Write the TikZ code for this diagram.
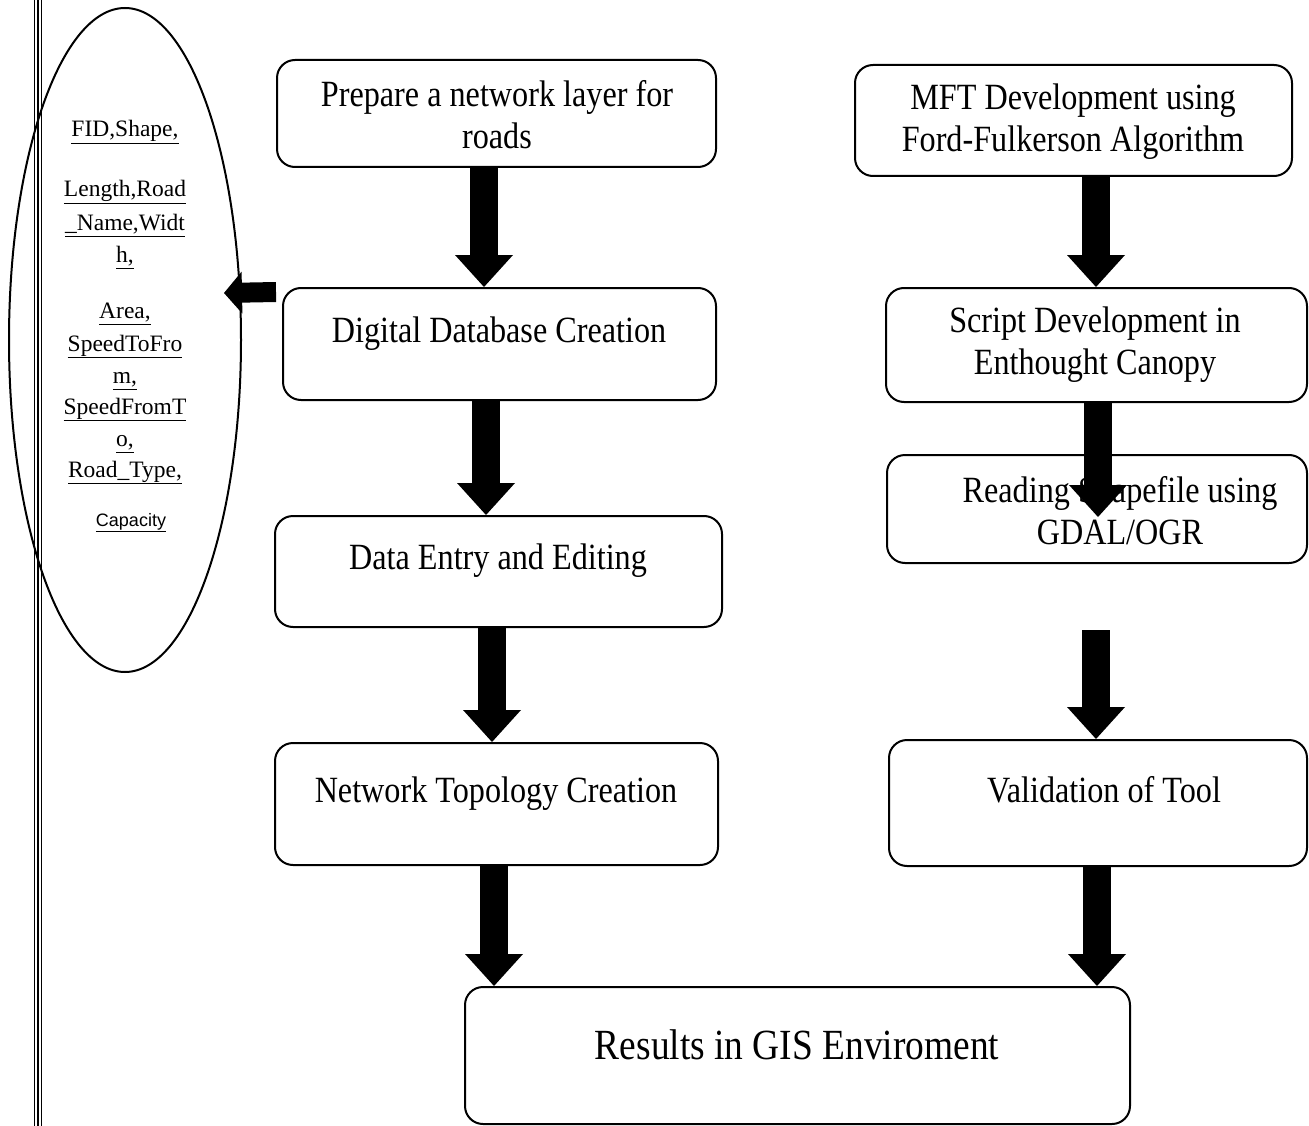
\documentclass[tikz,border=0pt]{standalone}
\usepackage{fontspec}
\setmainfont{Liberation Serif}
\newfontfamily\boxfont{Liberation Serif}[FakeStretch=0.87]
\newfontfamily\capfont{Liberation Sans}
\usetikzlibrary{arrows.meta,shapes.geometric}
\newcommand\ulx[1]{\underline{\vphantom{p}#1}}
\begin{document}
\begin{tikzpicture}[x=1pt,y=-1pt,
  box/.style={draw, line width=2pt, rounded corners=18pt, inner sep=0pt},
  boxtext/.style={align=center, font=\boxfont\fontsize{37}{42}\selectfont, inner sep=0pt},
  elltext/.style={anchor=base, inner sep=0pt, font=\fontsize{23.5}{33}\selectfont},
  downarrow/.style={line width=28pt, -{Triangle[width=58pt,length=32pt,line width=0pt]}},
  leftarrow/.style={line width=20pt, -{Triangle[width=42pt,length=18pt,line width=0pt]}},
]
\useasboundingbox (0,0) rectangle (1309,1126);
% frame lines
\draw[line width=1pt] (34.5,0) -- (34.5,1126);
\draw[line width=2.6pt] (37.8,0) -- (37.8,1126);
\draw[line width=1pt] (41,0) -- (41,1126);
% ellipse
\node[draw, ellipse, line width=2pt, minimum width=232pt, minimum height=664pt, inner sep=0pt] (ell) at (125,340) {};
\node[elltext] (e1) at (125,137) {\ulx{FID,Shape,}};
\node[elltext] (e2) at (125,197) {\ulx{Length,Road}};
\node[elltext] (e3) at (125,230) {\ulx{\_Name,Widt}};
\node[elltext] (e4) at (125,262) {\ulx{h,}};
\node[elltext] (e5) at (125,318) {\ulx{Area,}};
\node[elltext] (e6) at (125,351) {\ulx{SpeedToFro}};
\node[elltext] (e7) at (125,383) {\ulx{m,}};
\node[elltext] (e8) at (125,414) {\ulx{SpeedFromT}};
\node[elltext] (e9) at (125,446) {\ulx{o,}};
\node[elltext] (e10) at (125,477) {\ulx{Road\_Type,}};
\node[elltext, font=\capfont\fontsize{18}{22}\selectfont] (e11) at (131,526) {\ulx{Capacity}};
% boxes
\node[box, minimum width=439pt, minimum height=107pt] (b1) at (496.5,113.5) {};
\node[box, minimum width=433pt, minimum height=112pt] (b2) at (499.5,344) {};
\node[box, minimum width=447pt, minimum height=111pt] (b3) at (498.5,571.5) {};
\node[box, minimum width=443pt, minimum height=122pt] (b4) at (496.5,804) {};
\node[box, minimum width=437pt, minimum height=111pt] (b5) at (1073.5,120.5) {};
\node[box, minimum width=421pt, minimum height=114pt] (b6) at (1096.5,345) {};
\node[box, minimum width=420pt, minimum height=108pt] (b7) at (1097,509) {};
\node[box, minimum width=418pt, minimum height=126pt] (b8) at (1098,803) {};
\node[box, minimum width=665pt, minimum height=137pt] (r) at (797.5,1055.5) {};
% texts
\node[boxtext] (t1) at (497,115) {Prepare a network layer for\\roads};
\node[boxtext] (t2) at (499,334) {Digital Database Creation};
\node[boxtext] (t3) at (498,561) {Data Entry and Editing};
\node[boxtext] (t4) at (496,794) {Network Topology Creation};
\node[boxtext] (t5) at (1073,122) {MFT Development using\\Ford-Fulkerson Algorithm};
\node[boxtext] (t6) at (1095,345) {Script Development in\\Enthought Canopy};
\node[boxtext] (t7) at (1120,511) {Reading Shapefile using\\GDAL/OGR};
\node[boxtext] (t8) at (1104,790) {Validation of Tool};
\node[boxtext, font=\boxfont\fontsize{43}{50}\selectfont] (tr) at (797,1045) {Results in GIS Enviroment};
% arrows
\coordinate (a6e) at (1098,517);
\coordinate (a7s) at (1096,630);
\coordinate (lt) at (224,293);
\draw[downarrow] (b1.south -| 484,0) -- (b2.north -| 484,0);
\draw[downarrow] (b2.south -| 486,0) -- (b3.north -| 486,0);
\draw[downarrow] (b3.south -| 492,0) -- (b4.north -| 492,0);
\draw[downarrow] (b4.south -| 494,0) -- (r.north -| 494,0);
\draw[downarrow] (b5.south -| 1096,0) -- (b6.north -| 1096,0);
\draw[downarrow] (b6.south -| 1098,0) -- (a6e);
\draw[downarrow] (a7s) -- (b8.north -| 1096,0);
\draw[downarrow] (b8.south -| 1097,0) -- (r.north -| 1097,0);
\draw[leftarrow] ([shift={(-6,5)}]b2.north west) -- (lt);
\end{tikzpicture}
\end{document}
